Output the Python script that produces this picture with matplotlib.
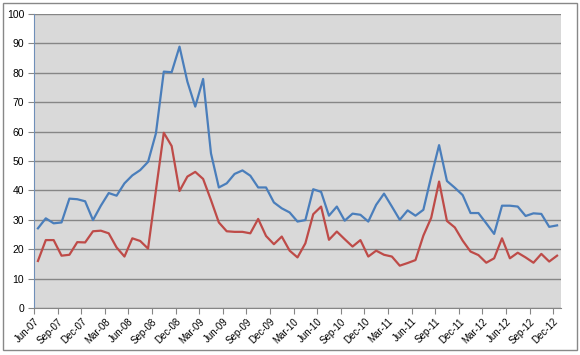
import matplotlib
matplotlib.use("Agg")
import matplotlib.pyplot as plt
from matplotlib.patches import Rectangle

months = ['Jun', 'Jul', 'Aug', 'Sep', 'Oct', 'Nov', 'Dec', 'Jan', 'Feb', 'Mar', 'Apr', 'May']
labels = []
for k in range(67):
    m = months[k % 12]
    yr = 7 + (k + 5) // 12
    labels.append('%s-%02d' % (m, yr))

blue = [27.1, 30.5, 28.8, 29.1, 37.2, 37.0, 36.3, 29.9, 34.8, 39.1, 38.2, 42.4,
        45.1, 46.9, 49.7, 59.4, 80.4, 80.2, 88.9, 77.0, 68.5, 77.9, 52.6, 41.0,
        42.4, 45.6, 46.8, 45.0, 41.0, 41.0, 35.9, 33.9, 32.5, 29.4, 29.9, 40.4,
        39.5, 31.4, 34.5, 29.7, 32.1, 31.7, 29.4, 35.1, 38.9, 34.5, 30.0, 33.2,
        31.4, 33.4, 44.7, 55.4, 43.2, 40.9, 38.4, 32.3, 32.3, 28.8, 25.2, 34.8,
        34.8, 34.5, 31.3, 32.2, 32.0, 27.6, 28.1]
red = [16.0, 23.1, 23.1, 17.8, 18.1, 22.4, 22.3, 26.1, 26.3, 25.4, 20.6, 17.5,
       23.7, 22.8, 20.2, 40.0, 59.6, 55.1, 39.8, 44.7, 46.3, 43.9, 36.7, 29.1,
       26.1, 25.9, 25.9, 25.4, 30.3, 24.5, 21.7, 24.3, 19.5, 17.2, 22.0, 31.9,
       34.5, 23.2, 26.0, 23.4, 20.9, 23.1, 17.5, 19.5, 18.1, 17.5, 14.4, 15.3,
       16.3, 24.6, 30.7, 43.0, 29.6, 27.4, 22.9, 19.2, 18.0, 15.4, 16.9, 23.7,
       16.9, 18.8, 17.2, 15.4, 18.4, 15.8, 17.8]

plt.rcParams['font.family'] = ['Liberation Sans', 'DejaVu Sans']

fig = plt.figure(figsize=(5.8, 3.55), dpi=100)
fig.patches.append(Rectangle((3 / 580, 5 / 355), 574 / 580, 347 / 355,
                             transform=fig.transFigure, fill=False,
                             edgecolor='#888888', linewidth=1))
ax = fig.add_axes([34 / 580, 1 - 308 / 355, 527 / 580, 294 / 355])
ax.set_facecolor('#D9D9D9')

x = list(range(len(blue)))
ax.plot(x, blue, color='#4A7EBB', linewidth=1.6, zorder=3)
ax.plot(x, red, color='#BE4B48', linewidth=1.6, zorder=3)

ax.set_xlim(-0.5, 66.5)
ax.set_ylim(0, 100)
ax.set_yticks(range(0, 101, 10))
ax.yaxis.grid(True, color='#868686', linewidth=1)
ax.set_axisbelow(True)

ticks = [i - 0.5 for i in range(0, 67, 3)]
ax.set_xticks(ticks)
ax.set_xticklabels([labels[i] for i in range(0, 67, 3)], rotation=45,
                   ha='right', va='top', rotation_mode='anchor')
ax.tick_params(axis='x', length=4, color='#868686', labelsize=7, pad=2)
ax.tick_params(axis='y', length=4, color='#868686', labelsize=7.5, pad=3)

for s in ['top', 'right']:
    ax.spines[s].set_visible(False)
ax.spines['left'].set_color('#6F8FB8')
ax.spines['bottom'].set_color('#868686')

fig.savefig('out.png', dpi=100)
